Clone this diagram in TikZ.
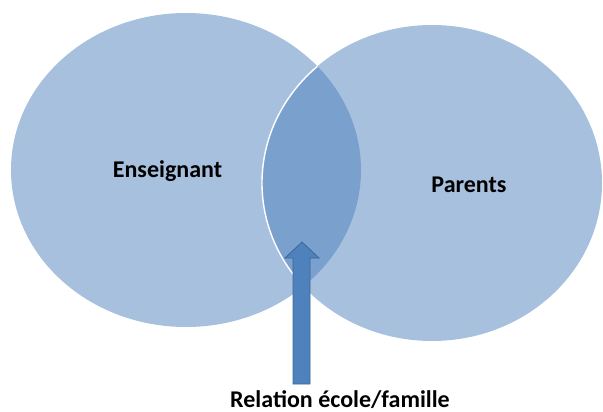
\documentclass[tikz,border=0pt]{standalone}
\usepackage{fontspec}
\usetikzlibrary{calc}
\setmainfont{Carlito}
\definecolor{setblue}{HTML}{4F81BD}
\definecolor{arrowedge}{HTML}{3B6898}
\begin{document}
\begin{tikzpicture}[x=1pt,y=-1pt,
  setfill/.style={fill=setblue,fill opacity=0.5,draw=none},
  setlabel/.style={font=\bfseries\fontsize{24}{28}\selectfont,inner sep=0pt,anchor=base},
  blockarrow/.style={fill=setblue,draw=arrowedge,line width=0.8pt,line join=miter}]
  \useasboundingbox (0,0) rectangle (603,412);
  % the two sets
  \path[setfill] (186,170) ellipse [x radius=175,y radius=157];
  \path[setfill] (432,183) ellipse [x radius=170,y radius=158];
  % white rim of the right set where it lies over the left one
  \begin{scope}
    \clip (186,170) ellipse [x radius=175,y radius=157];
    \draw[white,line width=1.4pt] (432,183) ellipse [x radius=170,y radius=158];
  \end{scope}
  % labels
  \node[setlabel] (ens) at (167.5,177) {Enseignant};
  \node[setlabel] (par) at (469,192) {Parents};
  \node[setlabel] (rel) at (340,407) {Relation école/famille};
  % block arrow pointing into the overlap
  \coordinate (tip) at (302,242);
  \draw[blockarrow] (tip) -- ($(tip)+(17,16)$) -- ($(tip)+(8,16)$)
    -- ($(tip)+(8,142)$) -- ($(tip)+(-9,142)$)
    -- ($(tip)+(-9,16)$) -- ($(tip)+(-17,16)$) -- cycle;
\end{tikzpicture}
\end{document}
